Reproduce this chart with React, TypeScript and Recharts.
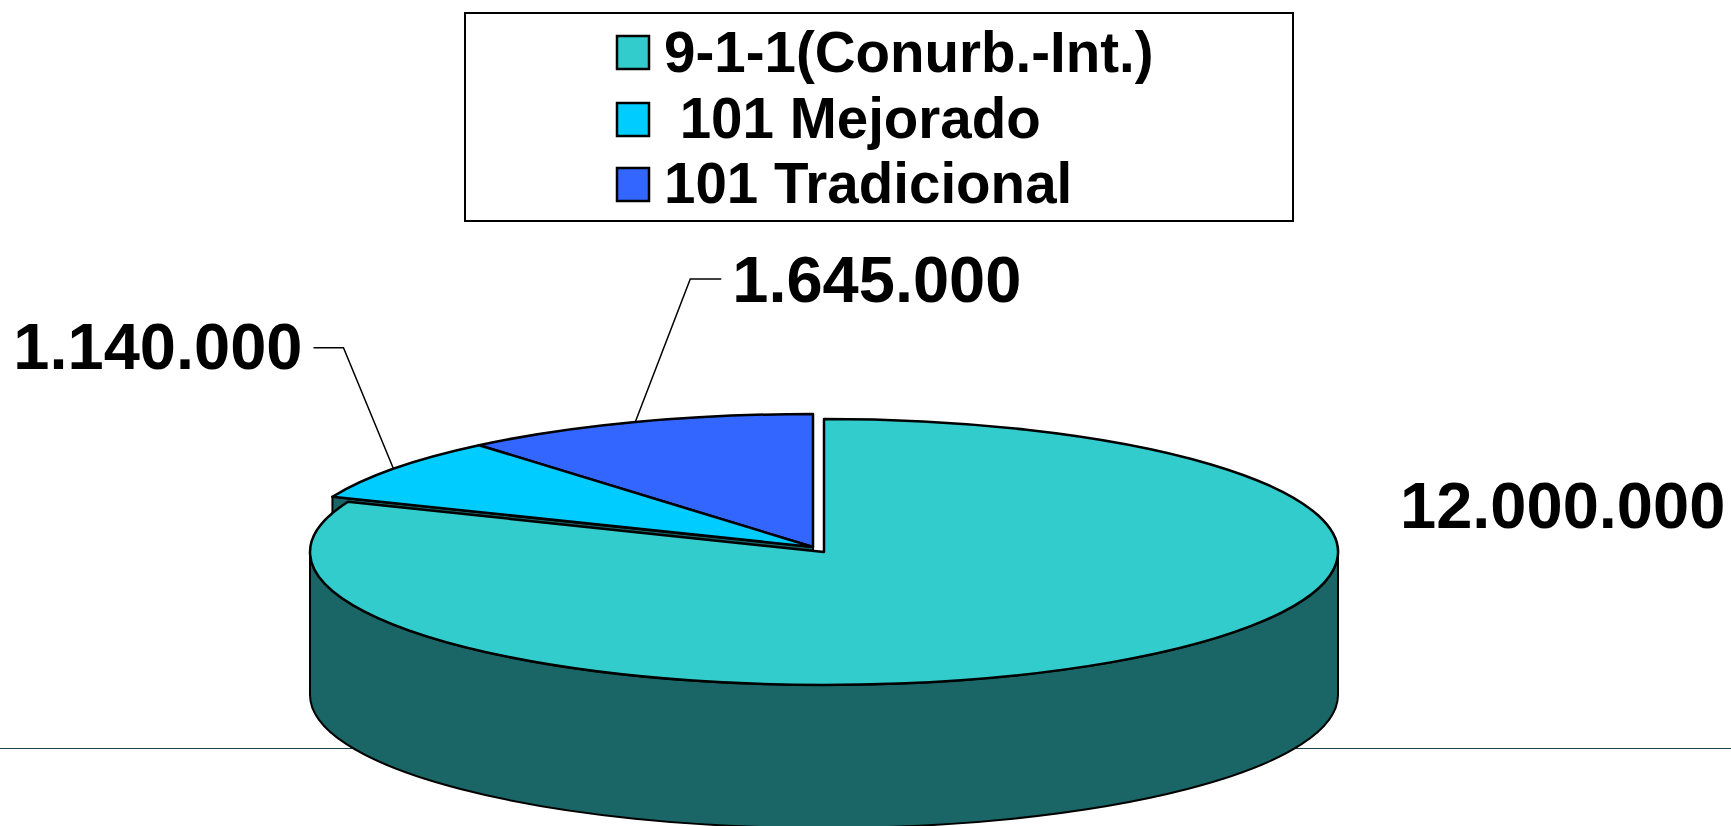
import { PieChart, Pie } from "recharts";

const CATEGORIES = ["9-1-1(Conurb.-Int.)", " 101 Mejorado", "101 Tradicional"];
const VALUES = [12000000, 1140000, 1645000];
const COLORS = ["#33CCCC", "#00CCFF", "#3366FF"];

const FONT = "'Liberation Sans', Arial, sans-serif";
const WALL = "#1A6666";

// pie geometry, the ellipse is a squashed circle
const CX = 813;
const CY = 547;
const RX = 514;
const RX_BACK = 519;
const RY = 133;
const DEPTH = 143;
const EXPLODED = CATEGORIES[0];
const EXPLODE_X = 11;
const EXPLODE_Y = 5;

// drawn back to front so the big slice covers the side of the small ones
const pieData = CATEGORIES.map((name, i) => ({ name, value: VALUES[i], fill: COLORS[i] })).reverse();

const onRim = (x: number, y: number, rx: number, angle: number) => {
  const rad = (angle * Math.PI) / 180;
  return { x: x + rx * Math.cos(rad), y: y - RY * Math.sin(rad) };
};

const formatValue = (v: number) => String(v).replace(/\B(?=(\d{3})+$)/g, ".");

function Slice3D(props: any) {
  const { cx, cy, startAngle, endAngle, fill, name } = props;
  const exploded = name === EXPLODED;
  const x = cx + (exploded ? EXPLODE_X : 0);
  const y = cy + (exploded ? EXPLODE_Y : 0);
  const rx = exploded ? RX : RX_BACK;
  const a = onRim(x, y, rx, startAngle);
  const b = onRim(x, y, rx, endAngle);
  const large = endAngle - startAngle > 180 ? 1 : 0;
  const top = `M${x},${y} L${a.x},${a.y} A${rx},${RY} 0 ${large} 0 ${b.x},${b.y} Z`;

  if (exploded) {
    const wall =
      `M${x - rx},${y} A${rx},${RY} 0 0 0 ${x + rx},${y} L${x + rx},${y + DEPTH} ` +
      `A${rx},${RY} 0 0 1 ${x - rx},${y + DEPTH} Z`;
    return (
      <g>
        <path d={wall} fill={WALL} stroke="#000" strokeWidth={2} />
        <path d={top} fill={fill} stroke="#000" strokeWidth={2.5} strokeLinejoin="round" />
      </g>
    );
  }

  // cut face of the back slices, only a sliver of it stays visible
  const face = `M${x},${y} L${b.x},${b.y} L${b.x},${b.y + DEPTH} L${x},${y + DEPTH} Z`;
  return (
    <g>
      <path d={face} fill={WALL} stroke="#000" strokeWidth={2} />
      <path d={top} fill={fill} stroke="#000" strokeWidth={2.5} strokeLinejoin="round" />
    </g>
  );
}

function SliceLabel(props: any) {
  const { cx, cy, midAngle, value, name } = props;
  const textProps = { fontFamily: FONT, fontSize: 65, fontWeight: 700, fill: "#000" };
  if (name === EXPLODED) {
    return (
      <text x={1400} y={528} {...textProps}>
        {formatValue(value)}
      </text>
    );
  }
  const p = onRim(cx, cy, RX_BACK, midAngle);
  if (name === CATEGORIES[1]) {
    return (
      <g>
        <polyline
          points={`${p.x},${p.y} ${p.x - 50},${p.y - 121} ${p.x - 80},${p.y - 121}`}
          fill="none"
          stroke="#000"
          strokeWidth={1.5}
        />
        <text x={p.x - 91} y={p.y - 100} textAnchor="end" {...textProps}>
          {formatValue(value)}
        </text>
      </g>
    );
  }
  return (
    <g>
      <polyline
        points={`${p.x},${p.y} ${p.x + 55},${p.y - 143} ${p.x + 86},${p.y - 143}`}
        fill="none"
        stroke="#000"
        strokeWidth={1.5}
      />
      <text x={p.x + 97} y={p.y - 120} {...textProps}>
        {formatValue(value)}
      </text>
    </g>
  );
}

const LEGEND_SWATCH_Y = [36, 103, 168];
const LEGEND_BASELINE = [72, 138, 203];

export default function App() {
  return (
    <div style={{ position: "absolute", left: 0, top: 0, width: 1731, height: 826, overflow: "hidden", background: "#fff" }}>
      <PieChart width={1731} height={826} margin={{ top: 0, right: 0, bottom: 0, left: 0 }}>
        <line x1={0} x2={1731} y1={748.5} y2={748.5} stroke="#23404F" strokeWidth={1} />
        <rect x={465} y={13} width={828} height={208} fill="#fff" stroke="#000" strokeWidth={2} />
        {CATEGORIES.map((name, i) => (
          <g key={name}>
            <rect x={617} y={LEGEND_SWATCH_Y[i]} width={32} height={33} fill={COLORS[i]} stroke="#000" strokeWidth={2.5} />
            <text
              x={664}
              y={LEGEND_BASELINE[i]}
              fontFamily={FONT}
              fontSize={56.5}
              fontWeight={700}
              fill="#000"
              style={{ whiteSpace: "pre" }}
            >
              {name}
            </text>
          </g>
        ))}
        <Pie
          data={pieData}
          dataKey="value"
          nameKey="name"
          cx={CX}
          cy={CY}
          outerRadius={RX}
          startAngle={90}
          endAngle={450}
          shape={Slice3D}
          label={SliceLabel}
          labelLine={false}
          isAnimationActive={false}
        />
      </PieChart>
    </div>
  );
}
